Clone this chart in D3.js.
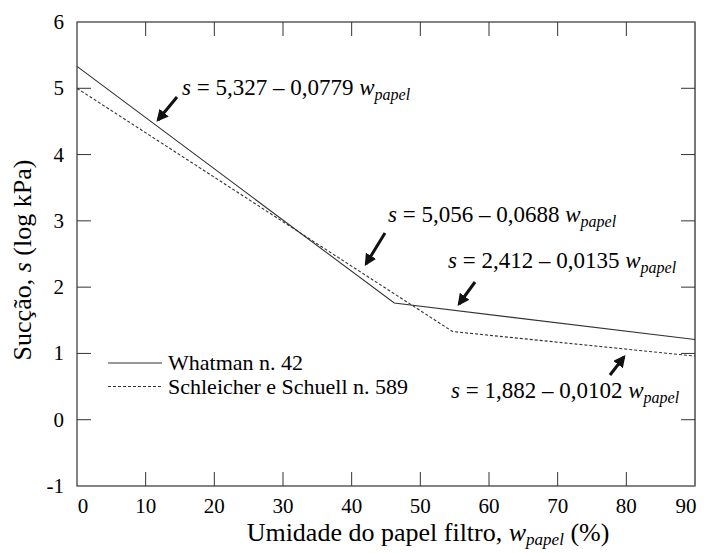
<!DOCTYPE html>
<html><head><meta charset="utf-8"><script src="https://cdn.jsdelivr.net/npm/d3@7"></script></head>
<body style="margin:0">
<script>
// Data
const xTicks = [0, 10, 20, 30, 40, 50, 60, 70, 80, 90]
const yTicks = [-1, 0, 1, 2, 3, 4, 5, 6]
const whatmanW = [0, 46.2, 90]
const whatmanS = [5.33, 1.76, 1.21]
const schleicherW = [0, 54.7, 90]
const schleicherS = [5.0, 1.33, 0.96]
const seriesNames = ["Whatman n. 42", "Schleicher e Schuell n. 589"]
const eqA = ["5,327", "5,056", "2,412", "1,882"]
const eqB = ["0,0779", "0,0688", "0,0135", "0,0102"]

// Dimensions
const width = 707
const height = 553
const margin = {top: 22, right: 12, bottom: 67, left: 77}
const tickLen = 14
const fontName = "Times New Roman"

const svg = d3.select("body").append("svg")
    .attr("width", width)
    .attr("height", height)
    .style("font-family", "'Times New Roman', 'Liberation Serif', serif")

const x = d3.scaleLinear().domain([0, 90]).range([margin.left, width - margin.right])
const y = d3.scaleLinear().domain([-1, 6]).range([height - margin.bottom, margin.top])

const x0 = x(0), x1 = x(90), y0 = y(-1), y1 = y(6)

// frame
svg.append("rect")
    .attr("x", x0).attr("y", y1)
    .attr("width", x1 - x0).attr("height", y0 - y1)
    .attr("fill", "none").attr("stroke", "#333").attr("stroke-width", 1.2)
svg.append("line")
    .attr("x1", x1).attr("x2", x1).attr("y1", y1).attr("y2", y0)
    .attr("stroke", "#777").attr("stroke-width", 2)

// ticks, all inward
svg.append("g").selectAll("line")
    .data(xTicks.slice(1, -1))
    .enter().append("line")
    .attr("x1", d => x(d)).attr("x2", d => x(d))
    .attr("y1", y0).attr("y2", y0 - tickLen)
    .attr("stroke", "#333")
svg.append("g").selectAll("line")
    .data(xTicks.slice(1, -1))
    .enter().append("line")
    .attr("x1", d => x(d)).attr("x2", d => x(d))
    .attr("y1", y1).attr("y2", y1 + tickLen)
    .attr("stroke", "#333")
svg.append("g").selectAll("line")
    .data(yTicks.slice(1, -1))
    .enter().append("line")
    .attr("x1", x0).attr("x2", x0 + tickLen)
    .attr("y1", d => y(d)).attr("y2", d => y(d))
    .attr("stroke", "#333")
svg.append("g").selectAll("line")
    .data(yTicks.slice(1, -1))
    .enter().append("line")
    .attr("x1", x1).attr("x2", x1 - tickLen)
    .attr("y1", d => y(d)).attr("y2", d => y(d))
    .attr("stroke", "#333")

// tick labels
svg.selectAll(".xlab")
    .data(xTicks)
    .enter().append("text")
    .attr("class", "xlab")
    .attr("x", d => d === 90 ? x(d) - 9 : x(d) + (d === 0 ? 6 : 0))
    .attr("y", y0 + 27)
    .attr("text-anchor", "middle")
    .attr("font-family", fontName).attr("font-size", 21)
    .text(d => d)
svg.selectAll(".ylab")
    .data(yTicks)
    .enter().append("text")
    .attr("class", "ylab")
    .attr("x", x0 - 13)
    .attr("y", d => y(d) + 7)
    .attr("text-anchor", "end")
    .attr("font-family", fontName).attr("font-size", 21)
    .text(d => d)

// axis titles
const xt = svg.append("text")
    .attr("x", 428).attr("y", 541)
    .attr("text-anchor", "middle")
    .attr("font-family", fontName).attr("font-size", 26)
xt.append("tspan").text("Umidade do papel filtro, ")
xt.append("tspan").attr("font-style", "italic").text("w")
xt.append("tspan").attr("font-style", "italic").attr("font-size", 17).attr("dy", 4).text("papel")
xt.append("tspan").attr("dy", -4).text(" (%)")

const yt = svg.append("text")
    .attr("transform", "translate(31,260) rotate(-90)")
    .attr("text-anchor", "middle")
    .attr("font-family", fontName).attr("font-size", 26)
yt.append("tspan").text("Sucção, ")
yt.append("tspan").attr("font-style", "italic").text("s")
yt.append("tspan").text(" (log kPa)")

// lines
const line = d3.line().x(d => x(d[0])).y(d => y(d[1]))

svg.append("path")
    .datum(d3.zip(whatmanW, whatmanS))
    .attr("d", line)
    .attr("fill", "none").attr("stroke", "#333").attr("stroke-width", 1.1)
svg.append("path")
    .datum(d3.zip(schleicherW, schleicherS))
    .attr("d", line)
    .attr("fill", "none").attr("stroke", "#333").attr("stroke-width", 1.1)
    .attr("stroke-dasharray", "3,2")

// legend
seriesNames.forEach(function(name, i) {
  let ly = 363 + i * 23.5
  svg.append("line")
      .attr("x1", 108).attr("x2", 162)
      .attr("y1", ly).attr("y2", ly)
      .attr("stroke", "#333").attr("stroke-width", 1.1)
      .attr("stroke-dasharray", i === 1 ? "3,2" : null)
  svg.append("text")
      .attr("x", 168).attr("y", ly + 7)
      .attr("font-family", fontName).attr("font-size", 22)
      .text(name)
})

// equation labels and arrows
const eqPos = [
  {tx: 182, ty: 95, ax1: 177, ay1: 97, ax2: 158, ay2: 120},
  {tx: 388, ty: 222, ax1: 385, ay1: 233, ax2: 366, ay2: 264},
  {tx: 448, ty: 268, ax1: 475, ay1: 282, ax2: 459, ay2: 304},
  {tx: 451, ty: 398, ax1: 610, ay1: 375, ax2: 624, ay2: 357}
]

svg.append("defs").append("marker")
    .attr("id", "head")
    .attr("viewBox", "0 0 10 10")
    .attr("refX", 8).attr("refY", 5)
    .attr("markerWidth", 4).attr("markerHeight", 4)
    .attr("markerUnits", "strokeWidth")
    .attr("orient", "auto")
  .append("path")
    .attr("d", "M0,0 L10,5 L0,10 Z")
    .attr("fill", "#111")

eqA.forEach(function(a, i) {
  let p = eqPos[i]
  let t = svg.append("text")
      .attr("x", p.tx).attr("y", p.ty)
      .attr("font-family", fontName).attr("font-size", 23)
  t.append("tspan").attr("font-style", "italic").text("s")
  t.append("tspan").text(" = " + a + " – " + eqB[i] + " ")
  t.append("tspan").attr("font-style", "italic").text("w")
  t.append("tspan").attr("font-style", "italic").attr("font-size", 16).attr("dy", 5).text("papel")
  svg.append("line")
      .attr("x1", p.ax1).attr("y1", p.ay1)
      .attr("x2", p.ax2).attr("y2", p.ay2)
      .attr("stroke", "#111").attr("stroke-width", 3)
      .attr("marker-end", "url(#head)")
})
</script>
</body>
</html>
